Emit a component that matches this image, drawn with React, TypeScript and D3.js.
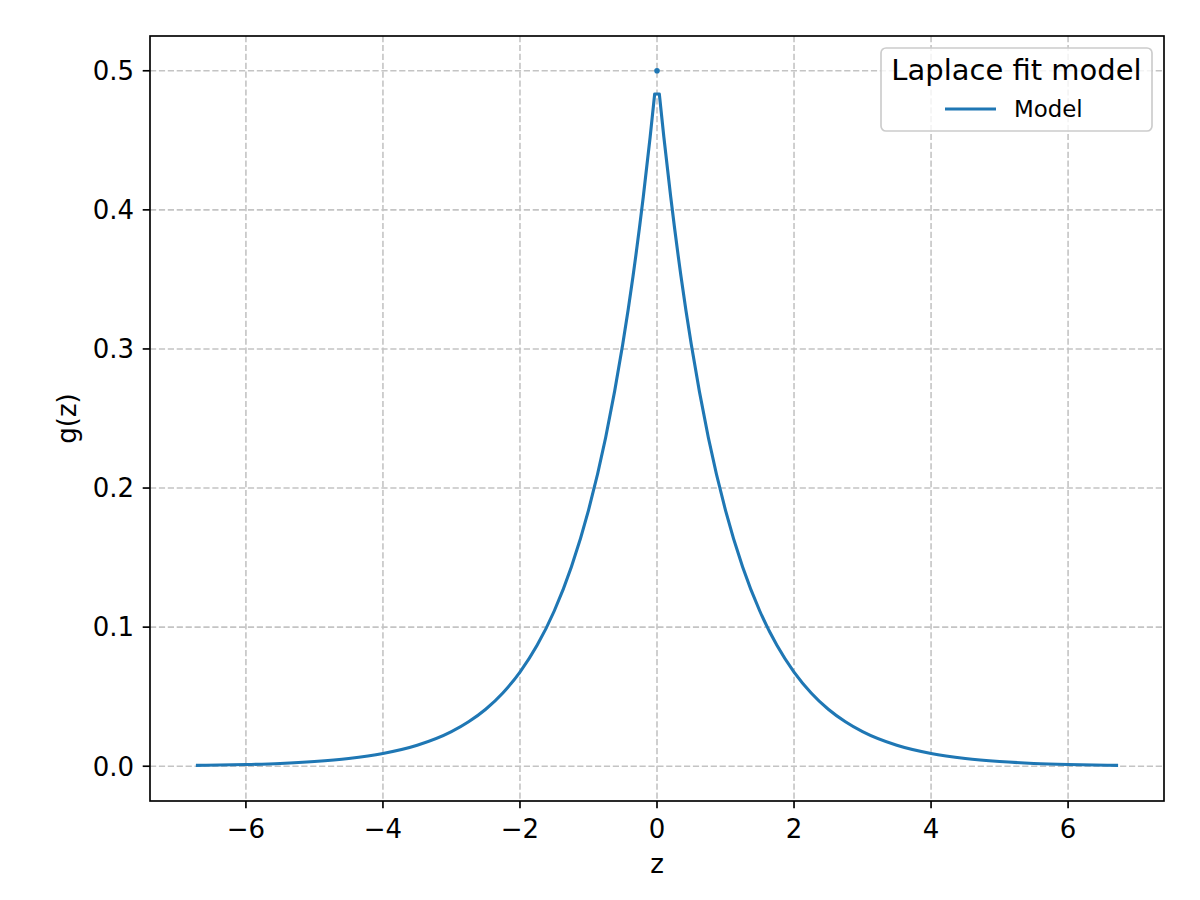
import React from "react";
import * as d3 from "d3";

// Curve values (z, g(z))
const zValues = [
  -6.73, -6.0, -5.5, -5.0, -4.5, -4.0, -3.5, -3.0, -2.75, -2.5, -2.25, -2.0,
  -1.75, -1.5, -1.25, -1.0, -0.75, -0.5, -0.35, -0.2, -0.1, -0.034,
  0.034, 0.1, 0.2, 0.35, 0.5, 0.75, 1.0, 1.25, 1.5, 1.75, 2.0, 2.25, 2.5,
  2.75, 3.0, 3.5, 4.0, 4.5, 5.0, 5.5, 6.0, 6.73,
];
const gValues = [
  0.0006, 0.0012, 0.0020, 0.0034, 0.0056, 0.0092, 0.0151, 0.0249, 0.0320,
  0.0410, 0.0527, 0.0677, 0.0869, 0.1116, 0.1433, 0.1840, 0.2362, 0.3033,
  0.3523, 0.4094, 0.4524, 0.4833,
  0.4833, 0.4524, 0.4094, 0.3523, 0.3033, 0.2362, 0.1840, 0.1433, 0.1116,
  0.0869, 0.0677, 0.0527, 0.0410, 0.0320, 0.0249, 0.0151, 0.0092, 0.0056,
  0.0034, 0.0020, 0.0012, 0.0006,
];
const peakPoint = { z: 0, g: 0.5 };
const xTicks = [-6, -4, -2, 0, 2, 4, 6];
const yTicks = [0.0, 0.1, 0.2, 0.3, 0.4, 0.5];
const legendTitle = "Laplace fit model";
const seriesName = "Model";

const W = 1200;
const H = 900;
const M = { left: 150, right: 1164, top: 36, bottom: 801 };
const BLUE = "#1f77b4";
const FONT = "'DejaVu Sans', sans-serif";

export default function App() {
  const x = d3.scaleLinear().domain([-7.4, 7.4]).range([M.left, M.right]);
  const y = d3.scaleLinear().domain([-0.025, 0.525]).range([M.bottom, M.top]);
  const pts = zValues.map((z, i) => [z, gValues[i]] as [number, number]);
  const line = d3
    .line<[number, number]>()
    .x((d) => x(d[0]))
    .y((d) => y(d[1]))
    .curve(d3.curveMonotoneX);
  // split at the flat top so the sampled peak keeps its sharp corners
  const left = pts.filter((p) => p[0] < 0);
  const right = pts.filter((p) => p[0] > 0);
  const dLeft = line(left) || "";
  const dRight = (line(right) || "").replace(/^M/, "L");
  const curveD = dLeft + dRight;

  const fmtX = (v: number) => (v < 0 ? "\u2212" + Math.abs(v) : String(v));
  const fmtY = (v: number) => v.toFixed(1);

  return (
    <svg
      width={W}
      height={H}
      style={{ position: "absolute", left: 0, top: 0, background: "#fff" }}
      fontFamily={FONT}
    >
      <rect x={0} y={0} width={W} height={H} fill="#fff" />
      {/* grid */}
      <g stroke="#c4c4c4" strokeWidth={1.6} strokeDasharray="6.2,2.7">
        {xTicks.map((t) => (
          <line key={"gx" + t} x1={x(t)} x2={x(t)} y1={M.top} y2={M.bottom} />
        ))}
        {yTicks.map((t) => (
          <line key={"gy" + t} x1={M.left} x2={M.right} y1={y(t)} y2={y(t)} />
        ))}
      </g>
      {/* curve */}
      <path d={curveD} fill="none" stroke={BLUE} strokeWidth={3.1} strokeLinejoin="round" strokeLinecap="butt" />
      <circle cx={x(peakPoint.z)} cy={y(peakPoint.g)} r={2.8} fill={BLUE} />
      {/* axes frame */}
      <rect
        x={M.left}
        y={M.top}
        width={M.right - M.left}
        height={M.bottom - M.top}
        fill="none"
        stroke="#000"
        strokeWidth={1.67}
      />
      {/* x ticks */}
      <g>
        {xTicks.map((t) => (
          <g key={"xt" + t}>
            <line x1={x(t)} x2={x(t)} y1={M.bottom} y2={M.bottom + 7.3} stroke="#000" strokeWidth={1.67} />
            <text x={x(t)} y={838} textAnchor="middle" fontSize={26} fill="#000">
              {fmtX(t)}
            </text>
          </g>
        ))}
      </g>
      {/* y ticks */}
      <g>
        {yTicks.map((t) => (
          <g key={"yt" + t}>
            <line x1={M.left - 7.3} x2={M.left} y1={y(t)} y2={y(t)} stroke="#000" strokeWidth={1.67} />
            <text x={M.left - 16} y={y(t)} dy="0.36em" textAnchor="end" fontSize={26} fill="#000">
              {fmtY(t)}
            </text>
          </g>
        ))}
      </g>
      {/* axis labels */}
      <text x={(M.left + M.right) / 2} y={873} textAnchor="middle" fontSize={26} fill="#000">
        z
      </text>
      <text
        transform={`translate(76,${(M.top + M.bottom) / 2}) rotate(-90)`}
        textAnchor="middle"
        fontSize={26}
        fill="#000"
      >
        g(z)
      </text>
      {/* legend */}
      <g>
        <rect x={881} y={48} width={271} height={83} rx={5} fill="#fff" fillOpacity={0.8} stroke="#cccccc" strokeWidth={1.67} />
        <text x={1016.5} y={80} textAnchor="middle" fontSize={29} fill="#000">
          {legendTitle}
        </text>
        <line x1={945} x2={996} y1={109} y2={109} stroke={BLUE} strokeWidth={3.1} />
        <text x={1014} y={117} fontSize={22.9} fill="#000">
          {seriesName}
        </text>
      </g>
    </svg>
  );
}
